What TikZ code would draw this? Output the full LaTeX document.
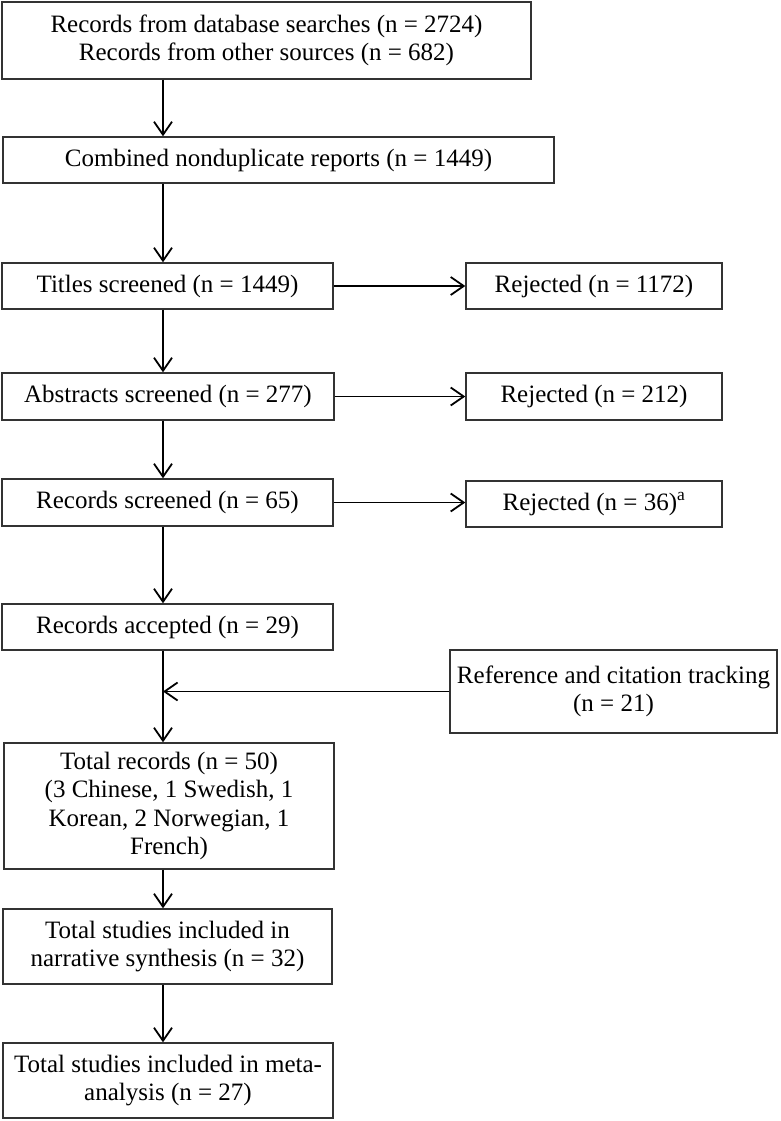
\documentclass[tikz,border=0pt]{standalone}
\usepackage{fontspec}
\setmainfont{Liberation Serif}
\usetikzlibrary{arrows.meta}
\begin{document}
\begin{tikzpicture}[x=1pt,y=-1pt,
  box/.style={draw=black!80, line width=1.4pt, inner sep=0pt, align=center,
    font=\fontsize{25}{28.5}\selectfont, anchor=center},
  arr/.style={draw=black, line width=1.8pt,
    -{Straight Barb[length=13pt,width=18pt,line width=1.8pt]}}]
\useasboundingbox (0,0) rectangle (780,1121);
\coordinate (col) at (163,0);
\node[box, minimum width=529pt, minimum height=77pt] (top) at (266.5,40.5)
  {Records from database searches (n = 2724)\\Records from other sources (n = 682)};
\node[box, minimum width=551pt, minimum height=46pt] (comb) at (278.5,160)
  {Combined nonduplicate reports (n = 1449)};
\node[box, minimum width=331pt, minimum height=46pt] (titles) at (167.5,286)
  {Titles screened (n = 1449)};
\node[box, minimum width=256pt, minimum height=46pt] (rej1) at (594,286)
  {Rejected (n = 1172)};
\node[box, minimum width=332pt, minimum height=47pt] (abs) at (168,396.5)
  {Abstracts screened (n = 277)};
\node[box, minimum width=256pt, minimum height=47pt] (rej2) at (594,396.5)
  {Rejected (n = 212)};
\node[box, minimum width=331pt, minimum height=47pt] (recs) at (167.5,502.5)
  {Records screened (n = 65)};
\node[box, minimum width=256pt, minimum height=46pt] (rej3) at (594,504)
  {Rejected (n = 36)\textsuperscript{a}};
\node[box, minimum width=331pt, minimum height=46pt] (acc) at (167.5,627)
  {Records accepted (n = 29)};
\node[box, minimum width=327pt, minimum height=83pt] (ref) at (613.5,691.5)
  {Reference and citation tracking\\(n = 21)};
\node[box, minimum width=330pt, minimum height=126pt] (tot) at (169,806)
  {Total records (n = 50)\\(3 Chinese, 1 Swedish, 1\\Korean, 2 Norwegian, 1\\French)};
\node[box, minimum width=329pt, minimum height=75pt] (narr) at (167.5,946.5)
  {Total studies included in\\narrative synthesis (n = 32)};
\node[box, minimum width=330pt, minimum height=75pt] (meta) at (168,1080.5)
  {Total studies included in meta-\\analysis (n = 27)};
\draw[arr] (top.south -| col) -- (comb.north -| col);
\draw[arr] (comb.south -| col) -- (titles.north -| col);
\draw[arr] (titles.south -| col) -- (abs.north -| col);
\draw[arr] (abs.south -| col) -- (recs.north -| col);
\draw[arr] (recs.south -| col) -- (acc.north -| col);
\draw[arr] (acc.south -| col) -- (tot.north -| col);
\draw[arr] (tot.south -| col) -- (narr.north -| col);
\draw[arr] (narr.south -| col) -- (meta.north -| col);
\draw[arr] (titles.east) -- (rej1.west);
\draw[arr] (abs.east) -- (rej2.west);
\draw[arr] (recs.east) -- (recs.east -| rej3.west);
\draw[arr] (ref.west) -- (ref.west -| col);
\end{tikzpicture}
\end{document}
